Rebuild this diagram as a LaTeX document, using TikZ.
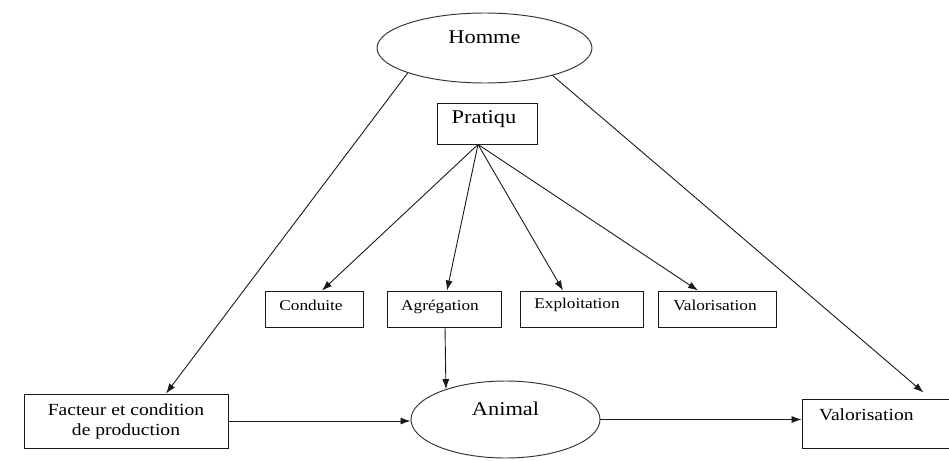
\documentclass[tikz,border=0pt]{standalone}
\usepackage{fontspec}
\setmainfont{Liberation Serif}[FakeStretch=1.15]
\usetikzlibrary{shapes.geometric,arrows.meta,calc}
\begin{document}
\begin{tikzpicture}[x=1pt,y=-1pt,
  bigf/.style={font=\fontsize{19.5}{22}\selectfont},
  midf/.style={font=\fontsize{17}{20}\selectfont},
  smallf/.style={font=\fontsize{15}{18}\selectfont},
  box/.style={draw=black!90, line width=0.95pt, rectangle, inner sep=0pt},
  oval/.style={draw=black!80, line width=0.95pt, ellipse, inner sep=0pt},
  arr/.style={draw=black!90, line width=0.9pt, -{Latex[length=10pt,width=7pt]}}]
\useasboundingbox (0,0) rectangle (949,460);
\clip (0,0) rectangle (949,460);
% ellipses
\node[oval, minimum width=215pt, minimum height=70pt,
      label={[bigf, yshift=11pt]center:Homme}] (homme) at (484.5,48) {};
\node[oval, minimum width=189pt, minimum height=77pt,
      label={[bigf, yshift=10.5pt]center:Animal}] (anim) at (505.5,419.5) {};
% boxes
\node[box, minimum width=100pt, minimum height=41pt,
      label={[bigf, xshift=-3pt, yshift=4pt]center:Pratiqu}] (prat) at (487,123.5) {};
\node[box, minimum width=98pt, minimum height=36pt,
      label={[smallf, xshift=-3pt, yshift=4pt]center:Conduite}] (cond) at (314,309) {};
\node[box, minimum width=114pt, minimum height=36pt,
      label={[smallf, xshift=-4pt, yshift=2pt]center:Agrégation}] (agr) at (444,309) {};
\node[box, minimum width=123pt, minimum height=36pt,
      label={[smallf, xshift=-4.5pt, yshift=4pt]center:Exploitation}] (expl) at (581.5,309) {};
\node[box, minimum width=118pt, minimum height=36pt,
      label={[smallf, xshift=-2pt, yshift=4pt]center:Valorisation}] (valS) at (717,309) {};
\node[box, minimum width=204pt, minimum height=54pt, midf, align=center]
      (fact) at (126,421) {Facteur et condition\\de production};
\node[box, minimum width=160pt, minimum height=49pt,
      label={[midf, anchor=west, xshift=14pt, yshift=8.5pt]west:Valorisation}] (valR) at (882,423.5) {};
% connectors
\coordinate (fan) at ($(prat.south)+(-9,0)$);
\draw[arr] (fan) -- ($(cond.north)+(8,0)$);
\draw[arr] (fan) -- ($(agr.north)+(3,0)$);
\draw[arr] (fan) -- ($(expl.north)+(-18.5,0)$);
\draw[arr] (fan) -- ($(valS.north)+(-19,0)$);
\draw[arr] ($(agr.south)+(1,0)$) -- (anim.153);
\draw[arr] (homme.198) -- ($(fact.north)+(40,0)$);
\draw[arr] (homme.338) -- ($(valR.north west)+(122,-6)$);
\draw[arr] (fact.east) -- (fact.east -| anim.west);
\draw[arr] (anim.east) -- (anim.east -| valR.west);
\end{tikzpicture}
\end{document}
